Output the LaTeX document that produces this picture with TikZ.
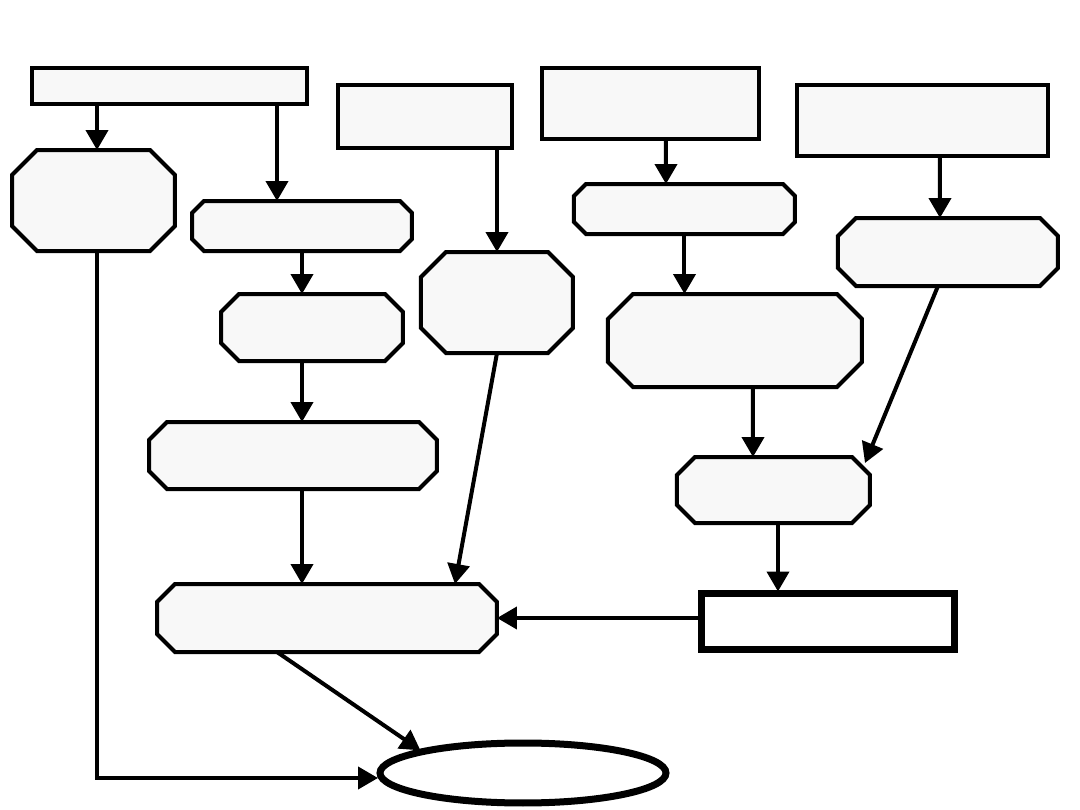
\documentclass[tikz,border=0pt]{standalone}
\usepackage{tikz}
\usetikzlibrary{positioning,arrows.meta,shapes.geometric}

\definecolor{boxfill}{HTML}{F8F8F8}

% octagon-like outline round an (undrawn) node
\newcommand{\chamfer}[2]{%
  \draw[fill=boxfill] ([xshift=#2]#1.north west) -- ([xshift=-#2]#1.north east)
    -- ([yshift=-#2]#1.north east) -- ([yshift=#2]#1.south east)
    -- ([xshift=-#2]#1.south east) -- ([xshift=#2]#1.south west)
    -- ([yshift=#2]#1.south west) -- ([yshift=-#2]#1.north west) -- cycle;}

\begin{document}
\begin{tikzpicture}[
  x=0.1mm, y=-0.1mm,
  line width=0.4mm,
  inner sep=0pt, outer sep=0.2mm,
  plain/.style={draw, fill=boxfill, rectangle},
  heavy/.style={draw, fill=white, rectangle, line width=0.7mm},
  cham/.style={rectangle},
  goal/.style={draw, ellipse, fill=white, line width=0.7mm},
  flow/.style={-{Triangle[length=2mm,width=2.2mm]}}
]
\useasboundingbox (0,0) rectangle (1080,810);
% Top row
\node[plain, minimum width=27.5mm, minimum height=3.6mm] (top1) at (169.5,86) {};
\node[plain, minimum width=17.4mm, minimum height=6.3mm] (top2) at (425,116.5) {};
\node[plain, minimum width=21.7mm, minimum height=7.1mm] (top3) at (650.5,103.5) {};
\node[plain, minimum width=25.1mm, minimum height=7.1mm] (top4) at (922.5,120.5) {};
% Left column
\node[cham, minimum width=15.9mm, minimum height=9.7mm] (oct1) at (93.5,200.5) {};
\node[cham, minimum width=21.6mm, minimum height=4.6mm] (stepa) at (302,226) {};
\node[cham, minimum width=17.8mm, minimum height=6.3mm] (stepb) at (312,327.5) {};
\node[cham, minimum width=28.4mm, minimum height=6.3mm] (stepc) at (293,455.5) {};
\node[cham, minimum width=33.6mm, minimum height=6.4mm] (merge) at (327,618) {};
% Middle column
\node[cham, minimum width=14.8mm, minimum height=9.7mm] (oct2) at (497,302.5) {};
% Right columns
\node[cham, minimum width=21.7mm, minimum height=4.6mm] (stepd) at (684.5,209) {};
\node[cham, minimum width=25.0mm, minimum height=8.9mm] (stepe) at (735,340.5) {};
\node[cham, minimum width=21.6mm, minimum height=6.4mm] (stepf) at (948,252) {};
\node[cham, minimum width=18.9mm, minimum height=6.2mm] (join) at (773.5,490) {};
\node[heavy, minimum width=25.3mm, minimum height=5.6mm] (result) at (828.5,621.5) {};
% Goal
\node[goal, minimum width=28.6mm, minimum height=6.0mm] (final) at (523,773) {};

% Outlines
\chamfer{oct1}{2.5mm}
\chamfer{oct2}{2.5mm}
\chamfer{stepe}{2.5mm}
\chamfer{stepa}{1.2mm}
\chamfer{stepd}{1.2mm}
\chamfer{stepb}{1.8mm}
\chamfer{stepc}{1.8mm}
\chamfer{merge}{1.8mm}
\chamfer{stepf}{1.8mm}
\chamfer{join}{1.8mm}

% Connectors
\draw[flow] ([xshift=0.35mm]top1.south -| oct1) -- ([xshift=0.35mm]oct1.north);
\draw[flow] ([xshift=10.75mm]top1.south) -- ([xshift=10.75mm]top1.south |- stepa.north);
\draw[flow] (stepa.south) -- (stepa.south |- stepb.north);
\draw[flow] (stepb.south -| stepa) -- (stepa |- stepc.north);
\draw[flow] (stepc.south -| stepa) -- (stepa |- merge.north);
\draw[flow] (top2.south -| oct2) -- (oct2.north);
\draw[flow] (oct2.south) -- ([xshift=12.8mm]merge.north);
\draw[flow] ([xshift=1.55mm]top3.south) -- ([xshift=-1.85mm]stepd.north);
\draw[flow] (stepd.south) -- (stepd.south |- stepe.north);
\draw[flow] ([xshift=1.75mm]top4.south) -- ([xshift=-0.8mm]stepf.north);
\draw[flow] ([xshift=1.8mm]stepe.south) -- ([xshift=-2.05mm]join.north);
\draw[flow] ([xshift=-1mm]stepf.south) -- ([xshift=-0.5mm,yshift=-0.6mm]join.north east);
\draw[flow] ([xshift=0.45mm]join.south) -- ([xshift=0.45mm]join.south |- result.north);
\draw[flow] (result.west |- merge.east) -- (merge.east);
\draw[flow] ([xshift=-5mm]merge.south) -- (final.north west);
\draw[flow] ([xshift=0.35mm]oct1.south) |- ([yshift=-0.5mm]final.west);
\end{tikzpicture}
\end{document}
